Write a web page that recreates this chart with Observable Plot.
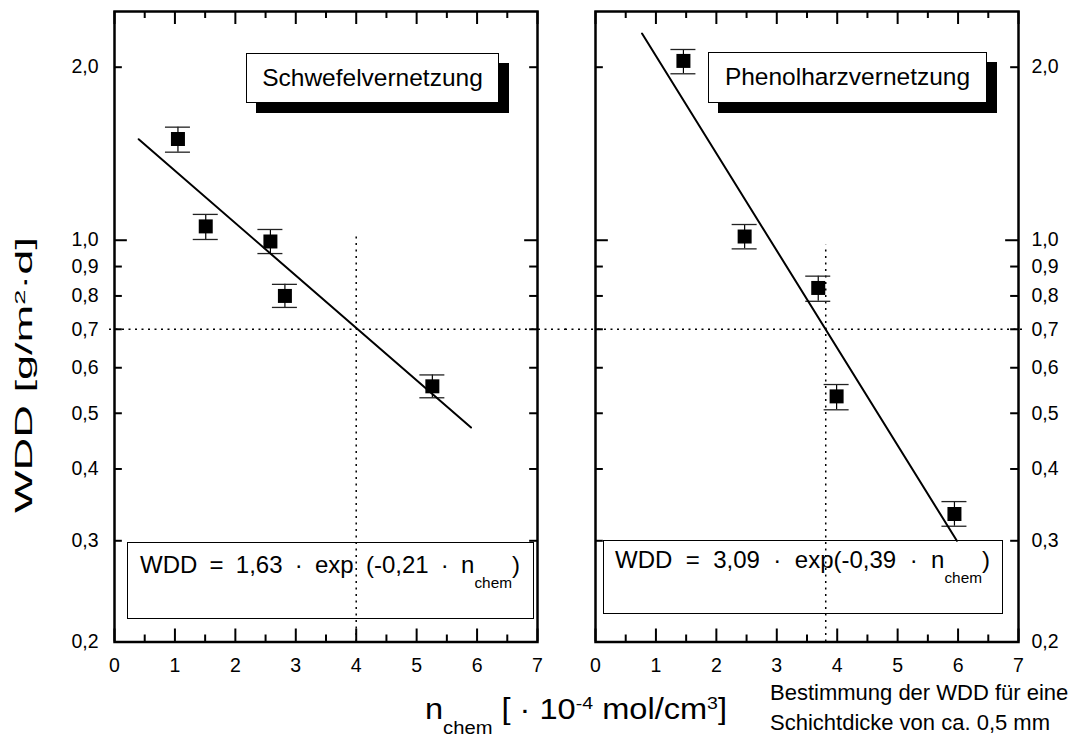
<!DOCTYPE html>
<html lang="de">
<head>
<meta charset="utf-8">
<script src="https://cdn.jsdelivr.net/npm/d3@7"></script>
<script src="https://cdn.jsdelivr.net/npm/@observablehq/plot@0.6"></script>
<style>
  html, body { margin: 0; padding: 0; background: #fff; }
  body { font-family: "Liberation Sans", Arial, sans-serif; color: #000; }
  #figure { position: relative; width: 1071px; height: 740px; overflow: hidden; }
  #figure > svg { position: absolute; left: 0; top: 0; }
  .tag { position: absolute; box-sizing: border-box; background: #fff; border: 1.5px solid #000;
         box-shadow: 10px 10px 0 #000; display: flex; align-items: center; justify-content: center;
         font-size: 24.5px; line-height: 1; }
  .eqbox { position: absolute; box-sizing: border-box; border: 1.5px solid #000; }
  .abs { position: absolute; white-space: nowrap; line-height: 1; }
  .eq { font-size: 24px; }
  .eq sub { font-size: 0.64em; position: relative; top: 0.95em; vertical-align: baseline; line-height: 0; }
  .xt { font-size: 29px; transform-origin: 0 50%; }
  .xt sub { font-size: 0.62em; position: relative; top: 0.85em; vertical-align: baseline; line-height: 0; }
  .xt sup { font-size: 0.6em; position: relative; top: -0.55em; vertical-align: baseline; line-height: 0; }
  .yt { font-size: 24px; }
  .yt sup { font-size: 0.6em; position: relative; top: -0.5em; vertical-align: baseline; line-height: 0; }
  .cap { font-size: 22px; }
</style>
</head>
<body>
<div id="figure"></div>
<script>
// Panels, one facet each
const panels = ["Schwefelvernetzung", "Phenolharzvernetzung"];

// WDD [g/m²·d] against chemical crosslink density n_chem [10^-4 mol/cm³], with error range
const sulfurN    = [1.05, 1.51, 2.58, 2.82, 5.26];
const sulfurWDD  = [1.50, 1.057, 0.995, 0.800, 0.557];
const sulfurLow  = [1.423, 1.003, 0.948, 0.764, 0.532];
const sulfurHigh = [1.573, 1.109, 1.044, 0.838, 0.583];

const phenolN    = [1.455, 2.468, 3.686, 3.99, 5.94];
const phenolWDD  = [2.051, 1.015, 0.826, 0.535, 0.334];
const phenolLow  = [1.948, 0.966, 0.783, 0.507, 0.318];
const phenolHigh = [2.147, 1.065, 0.866, 0.561, 0.351];

// Exponential fits WDD = a · exp(b · n_chem) and the n_chem range they are drawn over
const fitA = [1.63, 3.09];
const fitB = [-0.21, -0.39];
const fitFrom = [0.4, 0.77];
const fitTo = [5.9, 5.98];
const eqSpace = [" ", ""];

// Where each fit reaches WDD = 0,7
const targetWDD = 0.7;
const crossN = [4.0, 3.81];
const crossTop = [1.03, 0.98];

// Axes
const xDomain = [0, 7];
const yDomain = [0.2, 2.5];
const xTicks = [0, 1, 2, 3, 4, 5, 6, 7];
const xMinorTicks = [0.5, 1.5, 2.5, 3.5, 4.5, 5.5, 6.5];
const yTicks = [0.2, 0.3, 0.4, 0.5, 0.6, 0.7, 0.8, 0.9, 1.0, 2.0];
const yMajorTicks = [1.0];
const yMinorTicks = yTicks.filter(t => !yMajorTicks.includes(t));

const yLabel = "WDD [g/m<sup>2</sup>·d]";
const xLabel = "n<sub>chem</sub> [ · 10<sup>-4</sup> mol/cm<sup>3</sup>]";
const note = ["Bestimmung der WDD für eine", "Schichtdicke von ca. 0,5 mm"];

// ---- tables built from the arrays above
const points = [
  ...sulfurN.map((n, i) => ({panel: panels[0], n, wdd: sulfurWDD[i], lo: sulfurLow[i], hi: sulfurHigh[i]})),
  ...phenolN.map((n, i) => ({panel: panels[1], n, wdd: phenolWDD[i], lo: phenolLow[i], hi: phenolHigh[i]}))
];
const fits = panels.flatMap((panel, i) => [fitFrom[i], fitTo[i]].map(n => ({panel, n, wdd: fitA[i] * Math.exp(fitB[i] * n)})));
const guides = panels.map((panel, i) => ({panel, n: crossN[i], top: crossTop[i], wdd: targetWDD}));

// ---- layout
const W = 1071, H = 690;
const mT = 11, mB = 48.5, mL = 114, mR = 52.7, gap = 58;
const bw = (W - mL - mR - gap) / 2;      // width of one panel
const fh = H - mT - mB;                   // height of one panel
const longTick = 13, shortTick = 8, minorX = 7;
const dotted = {stroke: "black", strokeWidth: 1.5, strokeDasharray: "2,4.5"};
const comma = d => d.toFixed(1).replace(".", ",");

const chart = Plot.plot({
  width: W, height: H,
  marginTop: mT, marginBottom: mB, marginLeft: mL, marginRight: mR,
  style: {fontFamily: "'Liberation Sans', Arial, sans-serif", color: "black", background: "transparent", overflow: "visible"},
  fx: {domain: panels, paddingInner: gap / (bw + gap), paddingOuter: 0, axis: null, label: null},
  x: {domain: xDomain},
  y: {type: "log", domain: yDomain},
  marks: [
    // dotted guide at WDD = 0,7 running through both panels
    Plot.ruleY([guides[0]], {fx: "panel", y: "wdd", insetLeft: -5, insetRight: -(gap / 2 + 1), ...dotted}),
    Plot.ruleY([guides[1]], {fx: "panel", y: "wdd", insetLeft: -(gap / 2 + 1), insetRight: -7, ...dotted}),
    Plot.ruleX(guides, {fx: "panel", x: "n", y1: () => yDomain[0], y2: "top", ...dotted}),

    // error bars
    Plot.ruleX(points, {fx: "panel", x: "n", y1: "lo", y2: "hi", stroke: "black", strokeWidth: 1.2}),
    Plot.ruleY(points, {fx: "panel", x1: "n", x2: "n", y: "lo", insetLeft: -12.5, insetRight: -12.5, stroke: "#222", strokeWidth: 1.3}),
    Plot.ruleY(points, {fx: "panel", x1: "n", x2: "n", y: "hi", insetLeft: -12.5, insetRight: -12.5, stroke: "#222", strokeWidth: 1.3}),

    // measured values
    Plot.dot(points, {fx: "panel", x: "n", y: "wdd", symbol: "square", r: 7.9, fill: "black", stroke: null}),

    // exponential fits
    Plot.line(fits, {fx: "panel", x: "n", y: "wdd", z: "panel", stroke: "black", strokeWidth: 2}),

    // panel frames
    Plot.frame({stroke: "black", strokeWidth: 2.5}),

    // inward ticks on all four sides
    Plot.ruleX(xTicks, {x: d => d, insetTop: fh - longTick, stroke: "black", strokeWidth: 2}),
    Plot.ruleX(xTicks, {x: d => d, insetBottom: fh - longTick, stroke: "black", strokeWidth: 2}),
    Plot.ruleX(xMinorTicks, {x: d => d, insetTop: fh - minorX, stroke: "black", strokeWidth: 2}),
    Plot.ruleX(xMinorTicks, {x: d => d, insetBottom: fh - minorX, stroke: "black", strokeWidth: 2}),
    Plot.ruleY(yMajorTicks, {y: d => d, insetRight: bw - longTick, stroke: "black", strokeWidth: 2}),
    Plot.ruleY(yMajorTicks, {y: d => d, insetLeft: bw - longTick, stroke: "black", strokeWidth: 2}),
    Plot.ruleY(yMinorTicks, {y: d => d, insetRight: bw - shortTick, stroke: "black", strokeWidth: 2}),
    Plot.ruleY(yMinorTicks, {y: d => d, insetLeft: bw - shortTick, stroke: "black", strokeWidth: 2}),

    // tick labels
    Plot.axisX({anchor: "bottom", ticks: xTicks, tickFormat: d => String(d), tickSize: 0, tickPadding: 16, fontSize: 19.5, label: null}),
    Plot.axisY({anchor: "left", ticks: yTicks, tickFormat: comma, tickSize: 0, tickPadding: 16, fontSize: 19.5, label: null}),
    Plot.axisY({anchor: "right", ticks: yTicks, tickFormat: comma, tickSize: 0, tickPadding: 13, fontSize: 19.5, label: null})
  ]
});

const fig = document.getElementById("figure");
fig.appendChild(chart);

function place(cls, html, left, top) {
  const el = document.createElement("div");
  el.className = cls;
  el.innerHTML = html;
  el.style.left = left + "px";
  el.style.top = top + "px";
  fig.appendChild(el);
  return el;
}
function box(cls, left, top, w, h, html) {
  const el = place(cls, html || "", left, top);
  el.style.width = w + "px";
  el.style.height = h + "px";
  return el;
}
// spread the words of a line so that it spans the given width
function spread(el, target) {
  const spaces = (el.textContent.match(/ /g) || []).length;
  const w = el.getBoundingClientRect().width;
  if (spaces) el.style.wordSpacing = ((target - w) / spaces) + "px";
}

// panel name tags with drop shadow
box("tag", 246, 53, 253, 50, panels[0]);
box("tag", 708, 52, 279, 51, panels[1]);

// fit equation boxes
const fmt2 = v => v.toFixed(2).replace(".", ",");
const eqHtml = i => `WDD = ${fmt2(fitA[i])} · exp${eqSpace[i]}(${fmt2(fitB[i])} · n<sub>chem</sub>)`;
box("eqbox", 127, 542, 407, 77);
box("eqbox", 603, 540, 400, 74);
spread(place("abs eq", eqHtml(0), 140, 553), 380);
spread(place("abs eq", eqHtml(1), 615, 548), 375);

// axis titles
const xt = place("abs xt", xLabel, 425, 695);
const xw = xt.getBoundingClientRect().width;
xt.style.transform = `scaleX(${302 / xw})`;

const yt = place("abs yt", yLabel, 24, 375);
const yw = yt.getBoundingClientRect().width;
yt.style.transform = `translate(-50%, -50%) rotate(-90deg) scaleX(${276 / yw})`;

// measurement note
place("abs cap", note[0], 770, 682);
place("abs cap", note[1], 770, 712);
</script>
</body>
</html>
